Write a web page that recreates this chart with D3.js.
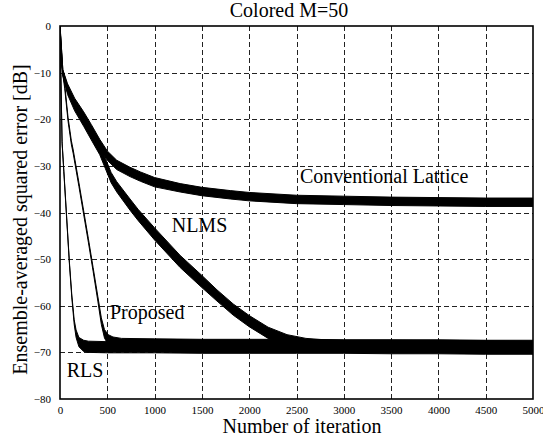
<!DOCTYPE html>
<html>
<head>
<meta charset="utf-8">
<script src="https://cdn.jsdelivr.net/npm/d3@7"></script>
<style>
  html, body { margin: 0; padding: 0; background: #fff; }
  svg { display: block; }
</style>
</head>
<body>
<svg id="chart" width="543" height="440"></svg>
<script>
// ---------------- data ----------------
const chartTitle = "Colored M=50";
const xLabel = "Number of iteration";
const yLabel = "Ensemble-averaged squared error [dB]";
const xTicks = [0, 500, 1000, 1500, 2000, 2500, 3000, 3500, 4000, 4500, 5000];
const yTicks = [0, -10, -20, -30, -40, -50, -60, -70, -80];

// Conventional Lattice (centre dB and noise half-spread dB)
const latticeIter   = [0, 30, 80, 155, 250, 330, 420, 500, 600, 740, 850, 1000, 1270, 1500, 1800, 2000, 2500, 3000, 3500, 4000, 4500, 5000];
const latticeDb     = [0, -10, -13.3, -16.5, -19.5, -22.2, -25.3, -27.8, -29.8, -31.3, -32.3, -33.5, -34.7, -35.5, -36.2, -36.6, -37.2, -37.4, -37.6, -37.7, -37.8, -37.8];
const latticeSpread = [0.2, 0.6, 0.9, 1.0, 1.1, 1.1, 1.0, 1.0, 1.0, 1.0, 1.0, 1.0, 0.9, 0.9, 0.9, 0.9, 0.9, 0.9, 0.9, 0.9, 0.9, 0.9];

// NLMS
const nlmsIter   = [0, 30, 80, 155, 250, 330, 420, 480, 540, 600, 740, 825, 1000, 1270, 1500, 1660, 1830, 2000, 2200, 2400, 2600, 2800, 3000, 3500, 4000, 4500, 5000];
const nlmsDb     = [0, -10, -13.8, -17.2, -20.4, -23.3, -26.5, -29.5, -32.5, -34.5, -38.3, -40.5, -44.6, -50.5, -54.8, -57.8, -60.8, -63.3, -65.8, -67.4, -68.2, -68.5, -68.6, -68.6, -68.7, -68.7, -68.8];
const nlmsSpread = [0.2, 0.6, 0.9, 1.0, 1.1, 1.1, 1.1, 1.1, 1.1, 1.1, 1.2, 1.2, 1.3, 1.3, 1.3, 1.2, 1.2, 1.2, 1.2, 1.2, 1.2, 1.2, 1.2, 1.2, 1.2, 1.2, 1.2];

// Proposed
const propIter   = [0, 15, 50, 85, 120, 140, 200, 250, 300, 350, 400, 437, 470, 510, 560, 650, 1000, 1500, 2000, 2500, 3000, 3500, 4000, 4500, 5000];
const propDb     = [0, -8, -13, -20, -25, -27, -34, -40, -46, -52.2, -58.5, -63.3, -66, -67.3, -67.9, -68.2, -68.3, -68.4, -68.4, -68.4, -68.5, -68.5, -68.5, -68.6, -68.6];
const propSpread = [0.2, 0.3, 0.4, 0.4, 0.4, 0.4, 0.4, 0.4, 0.4, 0.4, 0.5, 0.7, 0.9, 1.1, 1.2, 1.2, 1.2, 1.2, 1.2, 1.2, 1.2, 1.2, 1.2, 1.2, 1.2];

// RLS
const rlsIter   = [0, 22, 40, 70, 100, 125, 150, 170, 200, 250, 300, 500, 1000, 1500, 2000, 2500, 3000, 3500, 4000, 4500, 5000];
const rlsDb     = [0, -25, -31, -41, -51, -58, -63.5, -66, -67.8, -68.6, -68.8, -68.9, -68.9, -69, -69, -69, -69, -69.1, -69.1, -69.2, -69.2];
const rlsSpread = [0.15, 0.2, 0.2, 0.2, 0.2, 0.3, 0.5, 0.8, 1.0, 1.2, 1.2, 1.2, 1.2, 1.2, 1.2, 1.2, 1.2, 1.2, 1.2, 1.2, 1.2];

const seriesNames = ["Conventional Lattice", "NLMS", "Proposed", "RLS"];

// ---------------- drawing ----------------
const FONT = '"Liberation Serif"';
const svg = d3.select("#chart");
const pL = 60, pR = 533, pT = 26, pB = 399;

const x = d3.scaleLinear().domain([0, 5000]).range([pL, pR]);
const y = d3.scaleLinear().domain([-80, 0]).range([pB, pT]);

// grid
const grid = svg.append("g").attr("stroke", "#222").attr("stroke-width", 1)
  .attr("stroke-dasharray", "5,3").attr("shape-rendering", "crispEdges");
grid.selectAll("line.v").data(xTicks.slice(1, -1)).join("line")
  .attr("x1", d => Math.round(x(d)) + 0.5).attr("x2", d => Math.round(x(d)) + 0.5)
  .attr("y1", pT).attr("y2", pB);
grid.selectAll("line.h").data(yTicks.slice(1, -1)).join("line")
  .attr("x1", pL).attr("x2", pR)
  .attr("y1", d => Math.round(y(d)) + 0.5).attr("y2", d => Math.round(y(d)) + 0.5);

// series bands
function build(iter, db, spread) {
  return iter.map((it, i) => ({ it, v: db[i], s: spread[i] }));
}
const allSeries = [
  build(latticeIter, latticeDb, latticeSpread),
  build(nlmsIter, nlmsDb, nlmsSpread),
  build(propIter, propDb, propSpread),
  build(rlsIter, rlsDb, rlsSpread)
];
const area = d3.area()
  .x(d => x(d.it))
  .y0(d => y(d.v - d.s))
  .y1(d => y(d.v + d.s))
  .curve(d3.curveLinear);
svg.append("clipPath").attr("id", "plotclip")
  .append("rect").attr("x", pL).attr("y", pT).attr("width", pR - pL).attr("height", pB - pT);
svg.append("g").attr("clip-path", "url(#plotclip)")
  .selectAll("path").data(allSeries).join("path")
  .attr("d", area)
  .attr("fill", "#000").attr("stroke", "#000").attr("stroke-width", 1)
  .attr("stroke-linejoin", "round");

// frame
svg.append("rect").attr("x", pL).attr("y", pT).attr("width", pR - pL).attr("height", pB - pT)
  .attr("fill", "none").attr("stroke", "#000").attr("stroke-width", 1.6);

// axes
const xAxis = d3.axisBottom(x).tickValues(xTicks).tickSize(0).tickPadding(7).tickFormat(d3.format("d"));
const gx = svg.append("g").attr("transform", `translate(0,${pB})`).call(xAxis);
gx.select(".domain").remove();
gx.selectAll("text").style("font-family", FONT).style("font-size", "11px").attr("fill", "#000");

const yAxis = d3.axisLeft(y).tickValues(yTicks).tickSize(0).tickPadding(9).tickFormat(d3.format("d"));
const gy = svg.append("g").attr("transform", `translate(${pL},0)`).call(yAxis);
gy.select(".domain").remove();
gy.selectAll("text").style("font-family", FONT).style("font-size", "11px").attr("fill", "#000");

// titles
function txt(sel) { return sel.style("font-family", FONT).style("font-size", "20px").attr("fill", "#000"); }
txt(svg.append("text").attr("x", 289).attr("y", 16.7).attr("text-anchor", "middle").text(chartTitle));
txt(svg.append("text").attr("x", 302).attr("y", 433).attr("text-anchor", "middle").text(xLabel));
txt(svg.append("text").attr("transform", "translate(27,219.5) rotate(-90)").attr("text-anchor", "middle").text(yLabel));

// series annotations
const labelPos = [[300, 183.3], [171.7, 231.7], [110, 318.5], [66.7, 377]];
txt(svg.append("g").selectAll("text").data(seriesNames).join("text")
  .attr("x", (d, i) => labelPos[i][0]).attr("y", (d, i) => labelPos[i][1])
  .text(d => d));
</script>
</body>
</html>
